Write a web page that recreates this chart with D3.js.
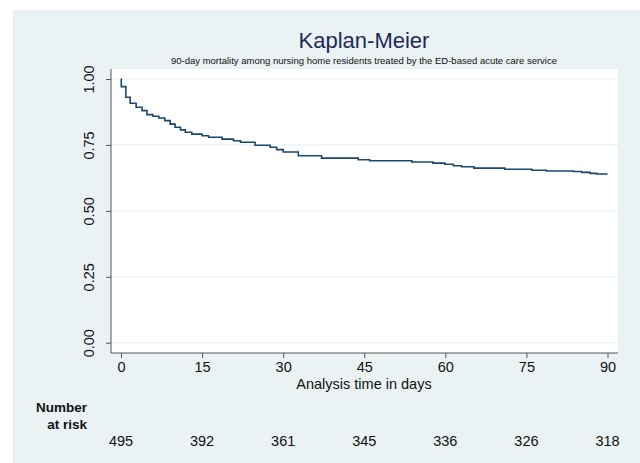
<!DOCTYPE html>
<html>
<head>
<meta charset="utf-8">
<script src="https://cdn.jsdelivr.net/npm/d3@7"></script>
<style>
  body { margin: 0; background: #ffffff; }
  text { font-family: "Liberation Sans", Arial, sans-serif; }
</style>
</head>
<body>
<div id="chart"></div>
<script>
// survival steps
var stepDays = [0, 0.05, 0.9, 1.7, 2.8, 3.9, 4.8, 5.9, 7.0, 8.1, 9.1, 10.0, 11.0, 11.9, 13.1, 15.0, 16.2, 18.7, 20.8, 22.1, 24.8, 27.6, 28.8, 30.0, 32.8, 37.1, 43.9, 46.0, 53.8, 57.7, 59.9, 61.5, 63.0, 65.3, 71.0, 76.0, 78.7, 83.7, 85.2, 86.8, 88.0, 90]
var stepSurv = [1, 0.971, 0.931, 0.908, 0.893, 0.880, 0.865, 0.859, 0.852, 0.842, 0.829, 0.817, 0.807, 0.798, 0.791, 0.785, 0.779, 0.772, 0.766, 0.760, 0.749, 0.741, 0.732, 0.723, 0.709, 0.700, 0.694, 0.690, 0.685, 0.681, 0.677, 0.671, 0.667, 0.662, 0.658, 0.654, 0.651, 0.649, 0.646, 0.642, 0.640, 0.640]

var xTicks = [0, 15, 30, 45, 60, 75, 90]
var yTicks = [0, 0.25, 0.5, 0.75, 1]
var atRisk = [495, 392, 361, 345, 336, 326, 318]

var width = 640, height = 463;
var plot = {left: 111, right: 618, top: 69, bottom: 353};

var svg = d3.select("#chart").append("svg")
    .attr("width", width)
    .attr("height", height);

// outer panel
svg.append("rect")
    .attr("x", 13).attr("y", 10)
    .attr("width", width - 13).attr("height", height - 10)
    .attr("fill", "#eaf2f3");

// plot region
svg.append("rect")
    .attr("x", plot.left).attr("y", plot.top)
    .attr("width", plot.right - plot.left).attr("height", plot.bottom - plot.top)
    .attr("fill", "#ffffff");

var x = d3.scaleLinear().domain([0, 90]).range([121, 607.5]);
var y = d3.scaleLinear().domain([0, 1]).range([342.7, 79]);

// grid lines
svg.selectAll("line.grid")
    .data(yTicks)
  .enter().append("line")
    .attr("class", "grid")
    .attr("x1", plot.left).attr("x2", plot.right)
    .attr("y1", function(d) { return y(d); })
    .attr("y2", function(d) { return y(d); })
    .attr("stroke", "#eaf2f3")
    .attr("stroke-width", 1.2);

// y axis
var yAxis = svg.append("g")
    .attr("transform", "translate(" + plot.left + ",0)")
    .call(d3.axisLeft(y).tickValues(yTicks).tickSize(5).tickFormat(d3.format(".2f")));
yAxis.select(".domain").attr("d", "M0," + plot.top + "V" + plot.bottom).attr("stroke", "#555");
yAxis.selectAll(".tick line").attr("stroke", "#555");
yAxis.selectAll(".tick text")
    .attr("x", null).attr("dy", null)
    .attr("transform", "translate(-17,0) rotate(-90)")
    .attr("text-anchor", "middle")
    .attr("font-size", 14.5)
    .attr("fill", "#111");

// x axis
var xAxis = svg.append("g")
    .attr("transform", "translate(0," + plot.bottom + ")")
    .call(d3.axisBottom(x).tickValues(xTicks).tickSize(5));
xAxis.select(".domain").attr("d", "M" + plot.left + ",0H" + plot.right).attr("stroke", "#555");
xAxis.selectAll(".tick line").attr("stroke", "#555");
xAxis.selectAll(".tick text")
    .attr("y", 9)
    .attr("font-size", 14.5)
    .attr("fill", "#111");

svg.append("text")
    .attr("x", 364).attr("y", 389)
    .attr("text-anchor", "middle")
    .attr("font-size", 14.5)
    .attr("fill", "#111")
    .text("Analysis time in days");

// the KM curve
var km = stepDays.map(function(d, i) { return {t: d, s: stepSurv[i]}; });
var line = d3.line()
    .x(function(d) { return x(d.t); })
    .y(function(d) { return y(d.s); })
    .curve(d3.curveStepAfter);

svg.append("path")
    .datum(km)
    .attr("d", line)
    .attr("fill", "none")
    .attr("stroke", "#1a476f")
    .attr("stroke-width", 1.6);

// titles
svg.append("text")
    .attr("x", 364).attr("y", 48)
    .attr("text-anchor", "middle")
    .attr("font-size", 22)
    .attr("fill", "#1c2b5a")
    .text("Kaplan-Meier");

svg.append("text")
    .attr("x", 364).attr("y", 64)
    .attr("text-anchor", "middle")
    .attr("font-size", 9.5)
    .attr("fill", "#111")
    .text("90-day mortality among nursing home residents treated by the ED-based acute care service");

// number at risk table
svg.append("text")
    .attr("x", 87).attr("y", 412)
    .attr("text-anchor", "end")
    .attr("font-size", 13.5)
    .attr("font-weight", "bold")
    .attr("fill", "#111")
    .text("Number");
svg.append("text")
    .attr("x", 87).attr("y", 429)
    .attr("text-anchor", "end")
    .attr("font-size", 13.5)
    .attr("font-weight", "bold")
    .attr("fill", "#111")
    .text("at risk");

svg.selectAll("text.risk")
    .data(atRisk)
  .enter().append("text")
    .attr("class", "risk")
    .attr("x", function(d, i) { return x(xTicks[i]); })
    .attr("y", 446)
    .attr("text-anchor", "middle")
    .attr("font-size", 14.5)
    .attr("fill", "#111")
    .text(function(d) { return d; });
</script>
</body>
</html>
